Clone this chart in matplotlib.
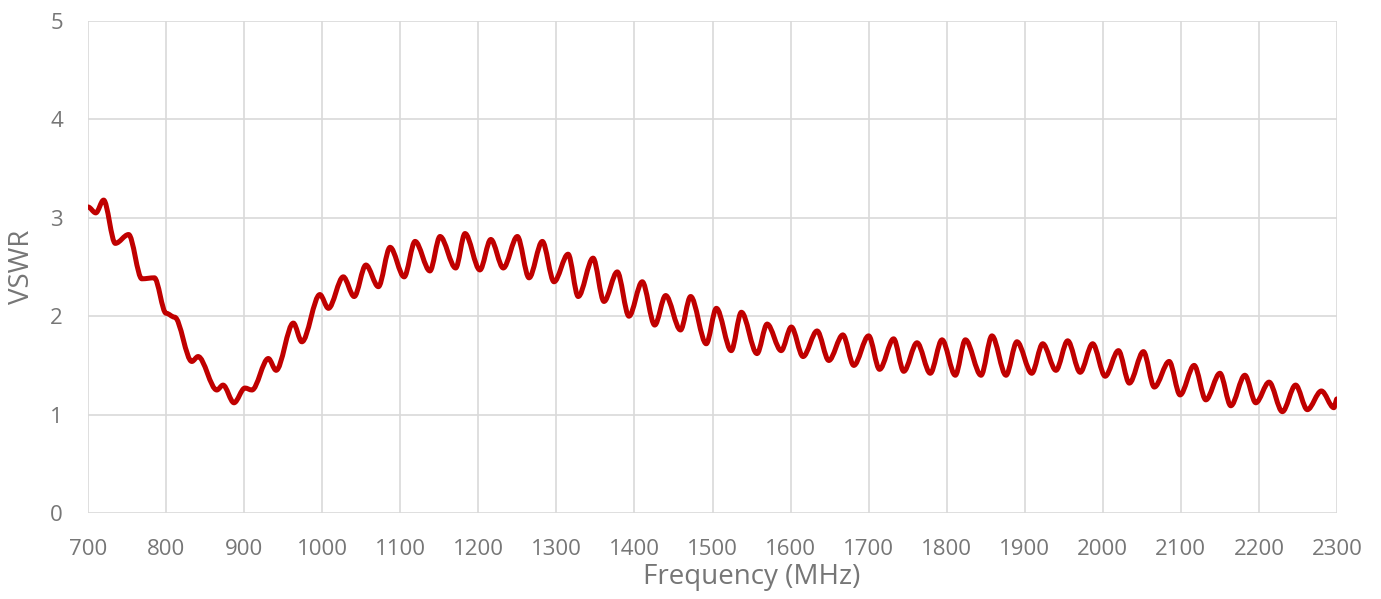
import matplotlib
matplotlib.use("Agg")
import matplotlib.pyplot as plt
from matplotlib.path import Path
from matplotlib.patches import PathPatch

# values (peaks / troughs of the ripple)
freq_mhz = [
    700, 710, 720, 735, 752, 769, 785, 800, 811, 833, 841, 865, 873, 887,
    901, 910, 931, 941, 963, 974, 997, 1008, 1027, 1041, 1056, 1072, 1087,
    1105, 1119, 1138, 1151, 1171, 1183, 1202, 1216, 1232, 1250, 1265, 1282,
    1297, 1315, 1328, 1347, 1361, 1378, 1393, 1410, 1426, 1440, 1459, 1472,
    1492, 1505, 1524, 1537, 1557, 1570, 1588, 1601, 1616, 1634, 1649, 1667,
    1681, 1700, 1714, 1732, 1745, 1762, 1779, 1794, 1811, 1824, 1844, 1858,
    1876, 1890, 1909, 1923, 1940, 1955, 1971, 1987, 2003, 2020, 2034, 2052,
    2066, 2085, 2099, 2117, 2132, 2150, 2164, 2182, 2196, 2213, 2230, 2247,
    2262, 2280, 2296, 2300,
]
vswr = [
    3.11, 3.05, 3.18, 2.74, 2.83, 2.38, 2.39, 2.03, 1.99, 1.54, 1.59, 1.25, 1.30, 1.12,
    1.27, 1.25, 1.57, 1.45, 1.93, 1.74, 2.22, 2.08, 2.40, 2.20, 2.52, 2.30, 2.70,
    2.40, 2.76, 2.46, 2.81, 2.49, 2.84, 2.47, 2.78, 2.49, 2.81, 2.39, 2.76,
    2.35, 2.63, 2.20, 2.59, 2.15, 2.45, 2.00, 2.35, 1.91, 2.21, 1.86, 2.20,
    1.72, 2.08, 1.65, 2.04, 1.62, 1.92, 1.65, 1.89, 1.59, 1.85, 1.55, 1.81,
    1.50, 1.80, 1.46, 1.77, 1.44, 1.73, 1.42, 1.76, 1.40, 1.76, 1.40, 1.80,
    1.40, 1.74, 1.42, 1.72, 1.45, 1.75, 1.43, 1.72, 1.39, 1.65, 1.32, 1.64,
    1.28, 1.54, 1.20, 1.50, 1.15, 1.42, 1.09, 1.40, 1.12, 1.33, 1.03, 1.30,
    1.05, 1.24, 1.07, 1.16,
]
x_ticks = list(range(700, 2301, 100))
y_ticks = [0, 1, 2, 3, 4, 5]

LINE_COLOR = "#C00000"
GRID_COLOR = "#D9D9D9"
TEXT_COLOR = "#767676"


def smooth_path(xs, ys):
    # Excel-like smoothed line: cubic bezier segments with flat tangents
    verts = [(xs[0], ys[0])]
    codes = [Path.MOVETO]
    for i in range(len(xs) - 1):
        dx = xs[i + 1] - xs[i]
        verts += [(xs[i] + dx / 3, ys[i]), (xs[i + 1] - dx / 3, ys[i + 1]), (xs[i + 1], ys[i + 1])]
        codes += [Path.CURVE4] * 3
    return Path(verts, codes)


def main() -> None:
    plt.rcParams["font.family"] = ["Open Sans", "DejaVu Sans"]
    fig = plt.figure(figsize=(13.81, 5.99), dpi=100)
    ax = fig.add_axes([88 / 1381, 1 - 513 / 599, (1337 - 88) / 1381, (513 - 21) / 599])

    ax.add_patch(PathPatch(smooth_path(freq_mhz, vswr), fill=False, edgecolor=LINE_COLOR,
                           linewidth=3.6, capstyle="round", joinstyle="round", zorder=3))

    ax.set_xlim(700, 2300)
    ax.set_ylim(0, 5)
    ax.set_xticks(x_ticks)
    ax.set_yticks(y_ticks)
    ax.grid(True, color=GRID_COLOR, linewidth=1.2)
    ax.set_axisbelow(True)
    for side in ("top", "right", "left", "bottom"):
        ax.spines[side].set_visible(False)
    ax.tick_params(axis="x", length=0, labelsize=16, colors=TEXT_COLOR, pad=19)
    ax.tick_params(axis="y", length=0, labelsize=16, colors=TEXT_COLOR, pad=18)
    ax.set_xlabel("Frequency (MHz)", fontsize=20, color=TEXT_COLOR, va="center")
    ax.xaxis.set_label_coords(0.531, -0.13)
    ax.set_ylabel("VSWR", fontsize=20, color=TEXT_COLOR, va="center")
    ax.yaxis.set_label_coords(-0.053, 0.5)

    fig.savefig("out.png", dpi=100)
    plt.close(fig)


if __name__ == "__main__":
    main()
